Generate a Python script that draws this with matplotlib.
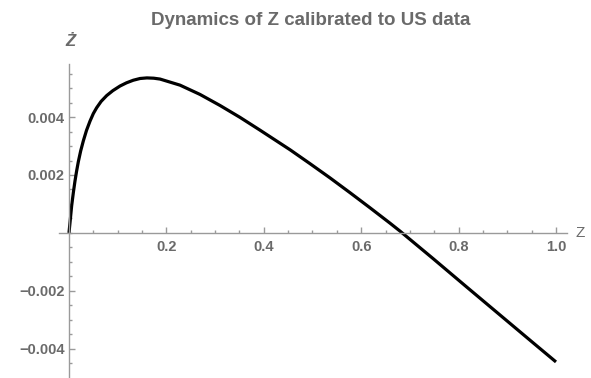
import matplotlib
matplotlib.use("Agg")
import matplotlib.pyplot as plt
from matplotlib.ticker import MultipleLocator, FixedLocator

# values
z = [0.0, 0.0055, 0.009, 0.0123, 0.0155, 0.0192, 0.024, 0.0295, 0.036, 0.0432,
     0.05, 0.0568, 0.066, 0.0774, 0.09, 0.1048, 0.118, 0.132, 0.146, 0.160,
     0.174, 0.187, 0.228, 0.269, 0.310, 0.351, 0.392, 0.454, 0.495, 0.536,
     0.577, 0.618, 0.659, 0.680, 0.748, 0.817, 0.885, 0.953, 1.0]
zdot = [0.0, 0.00094, 0.00140, 0.00179, 0.00212, 0.00246, 0.00283, 0.00318, 0.00354, 0.00386,
        0.00412, 0.00432, 0.00454, 0.00474, 0.00491, 0.00507, 0.00518, 0.00527, 0.00533, 0.00535,
        0.00534, 0.00531, 0.00510, 0.00478, 0.00440, 0.00399, 0.00355, 0.00287, 0.00239, 0.00190,
        0.00139, 0.00087, 0.00034, 0.00006, -0.00089, -0.00187, -0.00283, -0.00379, -0.00445]

x_ticks = [0.2, 0.4, 0.6, 0.8, 1.0]
x_labels = ["0.2", "0.4", "0.6", "0.8", "1.0"]
y_ticks = [-0.004, -0.002, 0.002, 0.004]
y_labels = ["\u22120.004", "\u22120.002", "0.002", "0.004"]

title = "Dynamics of Z calibrated to US data"
axis_grey = "#9a9a9a"
text_grey = "#6a6a6a"

plt.rcParams["font.family"] = ["Liberation Sans", "DejaVu Sans"]

fig = plt.figure(figsize=(5.91, 3.78), dpi=100)
# axes box in pixels: left 59, right 567, top 64, bottom 377
W, H = 591, 378
ax = fig.add_axes([59 / W, 1 - 377 / H, (567 - 59) / W, (377 - 64) / H])
ax.set_xlim(-0.0205, 1.0226)
ax.set_ylim(-0.00497, 0.00583)

ax.plot(z, zdot, color="black", lw=2.3, solid_capstyle="butt", solid_joinstyle="round")

for s in ["top", "right"]:
    ax.spines[s].set_visible(False)
for s in ["left", "bottom"]:
    ax.spines[s].set_position(("data", 0))
    ax.spines[s].set_color(axis_grey)
    ax.spines[s].set_linewidth(1.0)

ax.xaxis.set_major_locator(FixedLocator(x_ticks))
ax.set_xticklabels(x_labels)
ax.xaxis.set_minor_locator(MultipleLocator(0.05))
ax.yaxis.set_major_locator(FixedLocator(y_ticks))
ax.set_yticklabels(y_labels)
ax.yaxis.set_minor_locator(MultipleLocator(0.0005))

ax.tick_params(which="both", direction="in", color=axis_grey, width=1.0)
ax.tick_params(which="major", length=4.5)
ax.tick_params(which="minor", length=2.5)
ax.tick_params(axis="x", which="major", pad=5, labelsize=10.5, labelcolor=text_grey)
ax.tick_params(axis="y", which="major", pad=3, labelsize=10.5, labelcolor=text_grey)
for lab in ax.get_xticklabels() + ax.get_yticklabels():
    lab.set_fontweight("bold")

# axis labels, Mathematica style at the ends of the axes
ax.text(1.04, 0, "Z", color=text_grey, fontsize=11, ha="left", va="center",
        transform=ax.transData, clip_on=False)
fig.text(70 / W, 1 - 41 / H, "\u017b", color=text_grey, fontsize=12, fontstyle="italic",
         fontweight="bold", ha="center", va="center")

fig.text(311 / W, 1 - 25 / H, title, color=text_grey, fontsize=13.5, fontweight="bold",
         ha="center", va="baseline")

fig.savefig("out.png", dpi=100)
